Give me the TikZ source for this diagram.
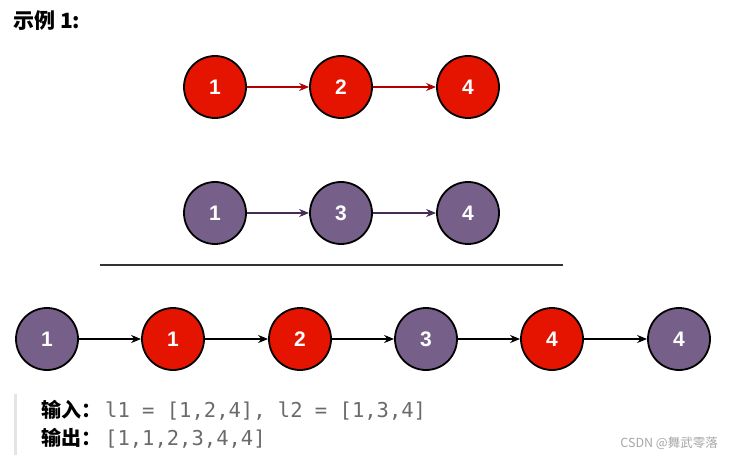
\documentclass[tikz,border=0pt]{standalone}
\usepackage{fontspec}
\setmainfont{Liberation Sans}
\newfontfamily\cjk{Noto Sans CJK SC}
\newfontfamily\codefont{DejaVu Sans Mono}
\usetikzlibrary{arrows.meta}

\definecolor{ballred}{HTML}{E51400}
\definecolor{ballpurple}{HTML}{76608A}
\definecolor{linkred}{HTML}{B20000}
\definecolor{linkpurple}{HTML}{432D57}
\definecolor{codegray}{HTML}{6A6A6A}
\definecolor{bargray}{HTML}{E4E4E4}

\begin{document}
\begin{tikzpicture}[x=1pt,y=-1pt,>={Stealth[length=10pt,width=8pt]},
  ball/.style={circle,draw=black,line width=1.8pt,minimum size=62pt,inner sep=0pt,
    text=white,font=\fontsize{21}{21}\selectfont\bfseries},
  redball/.style={ball,fill=ballred},
  purpleball/.style={ball,fill=ballpurple},
  link/.style={->,line width=1.3pt}]

% ----- page frame -----
\useasboundingbox (0,0) rectangle (731,457);

% title
\node[anchor=west,inner sep=0pt] (title) at (13,21)
  {\cjk\fontsize{21}{21}\selectfont\bfseries 示例 1:};

% ----- list l1 -----
\node[redball] (a1) at (215,87) {1};
\node[redball] (a2) at (341,87) {2};
\node[redball] (a3) at (468,87) {4};
\draw[link,linkred] (a1) -- (a2);
\draw[link,linkred] (a2) -- (a3);

% ----- list l2 -----
\node[purpleball] (b1) at (215,213) {1};
\node[purpleball] (b2) at (341,213) {3};
\node[purpleball] (b3) at (468,213) {4};
\draw[link,linkpurple] (b1) -- (b2);
\draw[link,linkpurple] (b2) -- (b3);

% divider
\coordinate (rule-w) at (100,265);
\coordinate (rule-e) at (563,265);
\draw[line width=2pt,black!80] (rule-w) -- (rule-e);

% ----- merged list -----
\node[purpleball] (m1) at (47,339)  {1};
\node[redball]    (m2) at (173,339) {1};
\node[redball]    (m3) at (300,339) {2};
\node[purpleball] (m4) at (426,339) {3};
\node[redball]    (m5) at (552,339) {4};
\node[purpleball] (m6) at (679,339) {4};
\foreach \p/\q in {m1/m2,m2/m3,m3/m4,m4/m5,m5/m6}
  \draw[link,black] (\p) -- (\q);

% ----- input / output -----
\fill[bargray] (14,394) rectangle (17,455);
\node[anchor=west,inner sep=0pt] (inp) at (41,410)
  {\cjk\fontsize{20}{20}\selectfont\bfseries 输入：\hspace{4pt}\codefont\mdseries\color{codegray}\fontsize{20.5}{20.5}\selectfont l1 = [1,2,4], l2 = [1,3,4]};
\node[anchor=west,inner sep=0pt] (outp) at (41,438)
  {\cjk\fontsize{20}{20}\selectfont\bfseries 输出：\hspace{4pt}\codefont\mdseries\color{codegray}\fontsize{20.5}{20.5}\selectfont [1,1,2,3,4,4]};

% watermark
\node[anchor=east,inner sep=0pt,text=black!35] (mark) at (718,443)
  {\cjk\fontsize{12.5}{12.5}\selectfont CSDN @舞武零落};

\end{tikzpicture}
\end{document}
